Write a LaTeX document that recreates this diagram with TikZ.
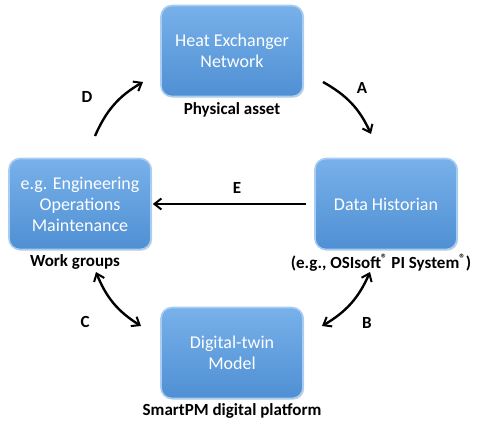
\documentclass[tikz,border=0pt]{standalone}
\usepackage{fontspec}
\setmainfont{Carlito}
\usepackage{tikz}
\usetikzlibrary{arrows.meta,positioning,calc,shadows}
\definecolor{boxtop}{HTML}{78B1EA}
\definecolor{boxbot}{HTML}{4F8FD3}
\definecolor{boxrim}{HTML}{A9CDF2}
\tikzset{
  blockbox/.style={rounded corners=11pt, minimum width=142pt, minimum height=91pt,
    top color=boxtop, bottom color=boxbot, draw=boxrim, line width=1.6pt,
    drop shadow={shadow xshift=1.2pt, shadow yshift=-1.2pt, opacity=0.35},
    text=white, align=center, font=\fontsize{18}{21}\selectfont, inner sep=2pt},
  caption/.style={font=\bfseries\fontsize{17}{19}\selectfont},
  letter/.style={font=\bfseries\fontsize{17}{19}\selectfont},
  flow/.style={-{Straight Barb[length=7pt, width=11pt, line width=2pt]}, line width=2.4pt},
  twoway/.style={{Straight Barb[length=7pt, width=11pt, line width=2pt]}-{Straight Barb[length=7pt, width=11pt, line width=2pt]}, line width=2.4pt}
}
\begin{document}
\begin{tikzpicture}[x=1pt, y=-1pt]
  \useasboundingbox (0,0) rectangle (482,425);

  \node[blockbox] (hen) at (232,51) {Heat Exchanger\\Network};
  \node[blockbox] (work) at (80,204) {e.g. Engineering\\Operations\\Maintenance};
  \node[blockbox] (hist) at (386,204) {Data Historian};
  \node[blockbox] (twin) at (232,353) {Digital-twin\\Model};

  \node[caption] (henlbl) at (232,110) {Physical asset};
  \node[caption] (worklbl) at (75,262) {Work groups};
  \node[caption] (histlbl) at (381,263) {(e.g., OSIsoft\textsuperscript{\textregistered} PI System\textsuperscript{\textregistered})};
  \node[caption] (twinlbl) at (232,411) {SmartPM digital platform};

  % arrow ends
  \coordinate (d1) at (95,136);  \coordinate (d2) at (143,82);
  \coordinate (a1) at (323,82);  \coordinate (a2) at (371,134);
  \coordinate (b1) at (370,272); \coordinate (b2) at (322,326);
  \coordinate (c1) at (96,272);  \coordinate (c2) at (141,326);

  \draw[flow] (d1) to[bend left=18] (d2);
  \draw[flow] (a1) to[bend left=18] (a2);
  \draw[twoway] (b1) to[bend left=18] (b2);
  \draw[twoway] (c1) to[bend right=18] (c2);
  \draw[flow, shorten <=8pt, shorten >=1pt] (hist.west) -- (work.east);

  \node[letter] (lblD) at (87,97) {D};
  \node[letter] (lblA) at (362,88) {A};
  \node[letter] (lblB) at (367,323) {B};
  \node[letter] (lblC) at (85,322) {C};
  \node[letter] (lblE) at (237,188) {E};
\end{tikzpicture}
\end{document}
